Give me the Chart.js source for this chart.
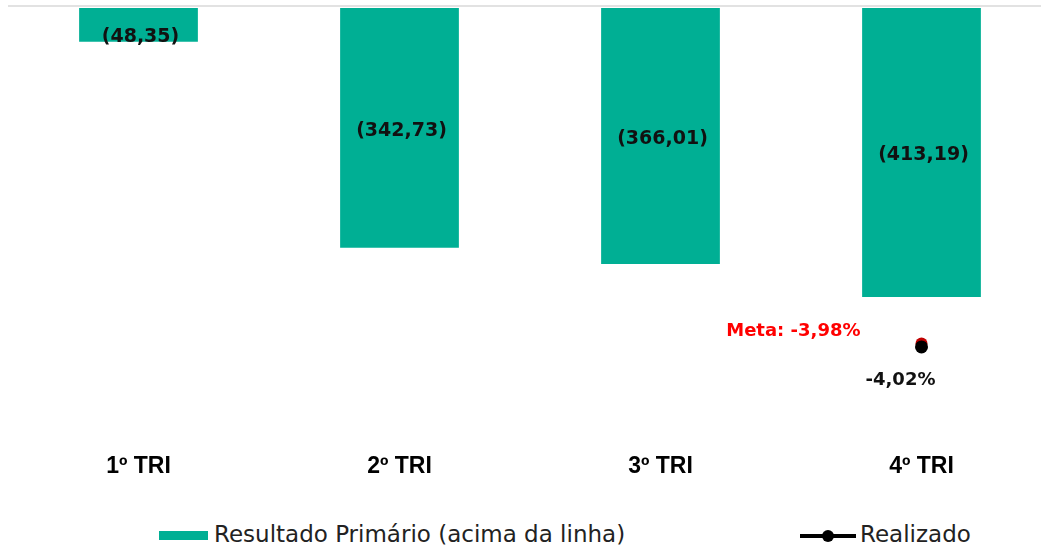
<!DOCTYPE html>
<html><head><meta charset="utf-8">
<script src="https://cdn.jsdelivr.net/npm/chart.js@4/dist/chart.umd.min.js"></script>
<style>
html,body{margin:0;padding:0;background:#fff;overflow:hidden;width:1041px;height:551px}
#wrap{position:absolute;left:0;top:0;width:1060px;height:494px}
.leg{position:absolute;top:519px;font-family:"DejaVu Sans",sans-serif;font-size:23px;color:#222;white-space:nowrap;line-height:30px}
</style></head><body>
<div id="wrap"><canvas id="c"></canvas></div>
<div class="leg" style="left:159px"><span style="display:inline-block;width:49px;height:9px;background:#00AF94;vertical-align:middle;margin-right:6px"></span>Resultado Primário (acima da linha)</div>
<div class="leg" style="left:800px"><span style="display:inline-block;position:relative;width:56px;height:12px;vertical-align:middle;margin-right:4px"><span style="position:absolute;left:0;top:4px;width:56px;height:4px;background:#000"></span><span style="position:absolute;left:22px;top:0;width:12px;height:12px;border-radius:6px;background:#000"></span></span>Realizado</div>
<script>
const categories = ["1º TRI","2º TRI","3º TRI","4º TRI"];
const resultadoPrimario = [-48.35,-342.73,-366.01,-413.19];
const realizado = [null,null,null,-4.02];
const meta = [null,null,null,-3.98];
const barLabels = ["(48,35)","(342,73)","(366,01)","(413,19)"];
const metaLabel = "Meta: -3,98%";
const realizadoLabel = "-4,02%";

const labelPlugin = {
  id:'labels',
  afterDatasetsDraw(chart){
    const ctx = chart.ctx;
    ctx.save();
    const bars = chart.getDatasetMeta(0).data;
    ctx.font = 'bold 19px "DejaVu Sans",sans-serif';
    ctx.fillStyle = '#111';
    ctx.textAlign='center'; ctx.textBaseline='middle';
    bars.forEach((b,i)=>{
      const top = Math.min(b.y,b.base), bot = Math.max(b.y,b.base);
      let y = (top+bot)/2 + 3;
      y = Math.max(y, top + 29);
      ctx.fillText(barLabels[i], b.x + 2, y);
    });
    const mp = chart.getDatasetMeta(2).data[3];
    const rp = chart.getDatasetMeta(1).data[3];
    ctx.font = 'bold 18px "DejaVu Sans",sans-serif';
    ctx.fillStyle = '#FF0000'; ctx.textAlign='right';
    ctx.fillText(metaLabel, mp.x - 61, mp.y - 12);
    ctx.fillStyle = '#111'; ctx.textAlign='center';
    ctx.fillText(realizadoLabel, rp.x - 21, rp.y + 33);
    ctx.restore();
  }
};

new Chart(document.getElementById('c'),{
  data:{
    labels:categories,
    datasets:[
      {type:'bar',label:'Resultado Primário (acima da linha)',data:resultadoPrimario,backgroundColor:'#00AF94',yAxisID:'y',barPercentage:0.91,categoryPercentage:0.5,order:3},
      {type:'line',label:'Realizado',data:realizado,borderColor:'#000',backgroundColor:'#000',pointRadius:6.5,pointBackgroundColor:'#000',pointBorderWidth:0,yAxisID:'y2',order:1},
      {type:'line',label:'Meta',data:meta,borderColor:'#C00000',backgroundColor:'#C00000',pointRadius:6,pointBackgroundColor:'#C00000',pointBorderWidth:0,yAxisID:'y2',order:2}
    ]
  },
  options:{
    responsive:true,maintainAspectRatio:false,animation:false,
    layout:{padding:{left:8,right:8,top:8,bottom:0}},
    plugins:{legend:{display:false},tooltip:{enabled:false}},
    scales:{
      x:{grid:{display:false},border:{display:false},
         ticks:{font:{family:'"Liberation Sans",Arial,sans-serif',size:23,weight:'bold'},color:'#000',padding:14}},
      y:{min:-604,max:0,display:false},
      y2:{min:-5.01,max:0,display:false,position:'right'}
    }
  },
  plugins:[labelPlugin,{
    id:'zeroline',
    beforeDatasetsDraw(chart){
      const c=chart.ctx, a=chart.chartArea, y=chart.scales.y.getPixelForValue(0);
      c.save(); c.strokeStyle='#d9d9d9'; c.lineWidth=1.5; c.beginPath(); c.moveTo(a.left,y-2); c.lineTo(a.right,y-2); c.stroke(); c.restore();
    }
  }]
});
</script>
</body></html>
